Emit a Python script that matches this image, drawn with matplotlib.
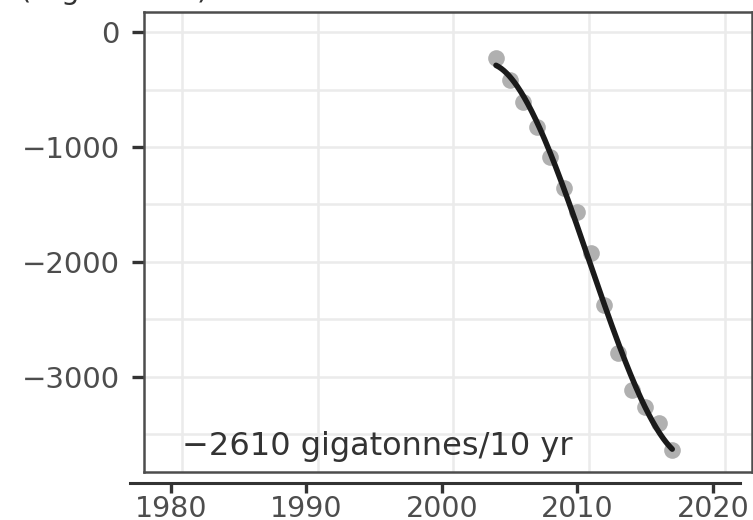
import numpy as np
import matplotlib.pyplot as plt

# annual ice mass change (gigatonnes), relative to 2004
years = np.arange(2004, 2018)
mass = [-224, -415, -607, -825, -1086, -1356, -1565,
        -1922, -2375, -2793, -3116, -3264, -3403, -3638]

x_ticks = [1980, 1990, 2000, 2010, 2020]
y_major = [0, -1000, -2000, -3000]
y_minor = [-500, -1500, -2500, -3500]
y_lim = (-3828, 174)
trend_label = "\u22122610 gigatonnes/10 yr"

W, H = 753, 520
fig = plt.figure(figsize=(W / 100, H / 100), dpi=100)

# panel with border, grid and the y axis
bot = (H - 471.7) / H
top = (H - 12.3) / H
ax = fig.add_axes([144 / W, bot, (752 - 144) / W, top - bot])
ax.set_xlim(1977.2, 2022)
ax.set_ylim(*y_lim)
ax.set_xticks(x_ticks)
ax.set_yticks(y_major)
ax.set_yticks(y_minor, minor=True)
ax.grid(True, which="both", color="#ebebeb", lw=1.8)
ax.set_axisbelow(True)
ax.tick_params(axis="x", length=0, labelbottom=False)
ax.tick_params(axis="y", which="major", length=8.5, width=2.4,
               color="#333333", labelsize=21, labelcolor="#4d4d4d", pad=9)
ax.tick_params(axis="y", which="minor", length=0)
for s in ax.spines.values():
    s.set_color("#4d4d4d")
    s.set_linewidth(1.8)

# data layer carrying the detached x axis
ax2 = fig.add_axes([130 / W, bot, 610 / W, top - bot])
ax2.patch.set_alpha(0)
ax2.set_xlim(1977, 2022)
ax2.set_ylim(*y_lim)
for side in ["top", "left", "right"]:
    ax2.spines[side].set_visible(False)
ax2.spines["bottom"].set_position(("outward", 7.9))
ax2.spines["bottom"].set_color("#333333")
ax2.spines["bottom"].set_linewidth(2.2)
ax2.set_yticks([])
ax2.set_xticks(x_ticks)
ax2.tick_params(axis="x", length=7.5, width=2.4, color="#333333",
                labelsize=20.5, labelcolor="#4d4d4d", pad=1.5)

ax2.plot(years, mass, "o", ms=12, color="#b0b0b0", mec="none", zorder=2)

coef = np.polyfit(years, mass, 3)
xs = np.linspace(years.min(), years.max(), 200)
ax2.plot(xs, np.polyval(coef, xs), color="#1a1a1a", lw=4, zorder=3,
         solid_capstyle="round")

ax2.text(1980.84, -3682, trend_label, fontsize=23, color="#333333",
         ha="left", va="baseline")

# y axis title, mostly above the top edge
fig.text(20 / W, (H + 1) / H, "(Gigatonnes)", fontsize=21,
         color="#333333", ha="left", va="baseline")

fig.savefig("out.png", dpi=100)
